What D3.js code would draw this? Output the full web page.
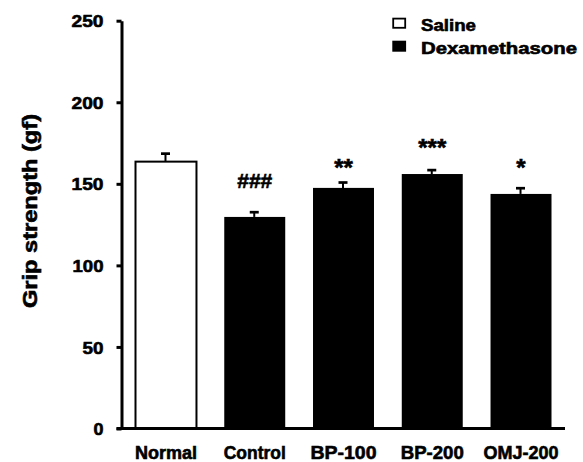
<!DOCTYPE html>
<html>
<head>
<meta charset="utf-8">
<script src="https://cdn.jsdelivr.net/npm/d3@7"></script>
<style>
  html, body { margin: 0; padding: 0; background: #fff; }
  text { font-family: "Liberation Sans", Arial, sans-serif; font-weight: bold; fill: #000; stroke: #000; stroke-width: 0.6px; }
</style>
</head>
<body>
<svg id="chart" width="583" height="462"></svg>
<script>
// ---- data ----
const categories = ["Normal", "Control", "BP-100", "BP-200", "OMJ-200"];
const groups = ["Saline", "Dexamethasone", "Dexamethasone", "Dexamethasone", "Dexamethasone"];
const means = [163.6, 129.7, 147.5, 156.0, 143.8];
const errors = [4.9, 2.9, 3.3, 2.4, 3.5];
const sigLabels = ["", "###", "**", "***", "*"];
const sigAt = [null, 147.5, 154.9, 167.2, 154.9];
const yTicks = [0, 50, 100, 150, 200, 250];
const legendItems = ["Saline", "Dexamethasone"];
const yTitle = "Grip strength (gf)";

// ---- layout ----
const svg = d3.select("#chart");
const y = d3.scaleLinear().domain([0, 250]).range([428.5, 20.7]);
const x = d3.scaleBand().domain(categories).range([121.3, 565.7]).paddingInner(0.313).paddingOuter(0.16);
const axisX = 121.5;

// label widths (wide bitmap-like font in the original)
const tickLen = {"0": 10, "50": 21, "100": 31, "150": 32, "200": 32, "250": 32};
const catLen = {"Normal": 62, "Control": 62, "BP-100": 66, "BP-200": 63, "OMJ-200": 75};

// bars
svg.append("g").selectAll("rect")
  .data(categories)
  .join("rect")
  .attr("x", (d) => x(d))
  .attr("width", x.bandwidth())
  .attr("y", (d, i) => y(means[i]))
  .attr("height", (d, i) => y(0) - y(means[i]))
  .attr("fill", (d, i) => groups[i] === "Saline" ? "#fff" : "#000")
  .attr("stroke", "#000")
  .attr("stroke-width", (d, i) => groups[i] === "Saline" ? 2 : 0);

// error bars
const eg = svg.append("g");
categories.forEach((c, i) => {
  const cx = x(c) + x.bandwidth() / 2 - 0.5;
  eg.append("line").attr("x1", cx).attr("x2", cx)
    .attr("y1", y(means[i])).attr("y2", y(means[i] + errors[i]))
    .attr("stroke", "#000").attr("stroke-width", 2);
  eg.append("line").attr("x1", cx - 4.5).attr("x2", cx + 4.5)
    .attr("y1", y(means[i] + errors[i])).attr("y2", y(means[i] + errors[i]))
    .attr("stroke", "#000").attr("stroke-width", 2.7);
});

// significance marks
svg.append("g").selectAll("text")
  .data(categories)
  .join("text")
  .filter((d, i) => sigLabels[i] !== "")
  .attr("x", (d) => x(d) + x.bandwidth() / 2)
  .attr("y", (d) => y(sigAt[categories.indexOf(d)]))
  .attr("text-anchor", "middle")
  .style("font-size", (d) => sigLabels[categories.indexOf(d)].includes("#") ? "21px" : "24px")
  .text((d) => sigLabels[categories.indexOf(d)]);

// y axis
const yAxis = svg.append("g")
  .attr("transform", `translate(${axisX},0)`)
  .call(d3.axisLeft(y).tickValues(yTicks).tickSize(5).tickSizeOuter(0).tickPadding(13));
yAxis.select(".domain").attr("stroke", "#000").attr("stroke-width", 3);
yAxis.selectAll(".tick line").attr("stroke", "#000").attr("stroke-width", 3);
yAxis.selectAll(".tick text")
  .attr("fill", "#000")
  .style("font-size", "17px")
  .style("font-family", "'Liberation Sans', Arial, sans-serif")
  .style("font-weight", "bold")
  .attr("dy", "0.36em")
  .attr("textLength", (d) => tickLen[String(d)])
  .attr("lengthAdjust", "spacingAndGlyphs");

// x axis baseline
svg.append("line")
  .attr("x1", axisX - 5).attr("x2", x.range()[1] - 0.7)
  .attr("y1", y(0)).attr("y2", y(0))
  .attr("stroke", "#000").attr("stroke-width", 3);

// x labels
const xAxis = svg.append("g")
  .attr("transform", `translate(0,${y(0)})`)
  .call(d3.axisBottom(x).tickSize(0).tickPadding(0));
xAxis.select(".domain").remove();
xAxis.selectAll(".tick text")
  .attr("y", 30.5).attr("dy", 0)
  .attr("fill", "#000")
  .style("font-size", "18px")
  .style("font-family", "'Liberation Sans', Arial, sans-serif")
  .style("font-weight", "bold")
  .attr("textLength", (d) => catLen[d])
  .attr("lengthAdjust", "spacingAndGlyphs");

// y title
svg.append("text")
  .attr("transform", "translate(36.5,211) rotate(-90)")
  .attr("text-anchor", "middle")
  .style("font-size", "20px")
  .attr("textLength", 194)
  .attr("lengthAdjust", "spacingAndGlyphs")
  .text(yTitle);

// legend
const legendText = {"Saline": 55, "Dexamethasone": 156};
const lg = svg.append("g");
legendItems.forEach((name, i) => {
  const by = 18.6 + i * 23;
  lg.append("rect")
    .attr("x", 393.2).attr("y", by)
    .attr("width", 12).attr("height", 9.2)
    .attr("fill", name === "Saline" ? "#fff" : "#000")
    .attr("stroke", "#000").attr("stroke-width", 1.8);
  lg.append("text")
    .attr("x", 421).attr("y", 30.8 + i * 23)
    .style("font-size", "16.5px")
    .attr("textLength", legendText[name])
    .attr("lengthAdjust", "spacingAndGlyphs")
    .text(name);
});
</script>
</body>
</html>
